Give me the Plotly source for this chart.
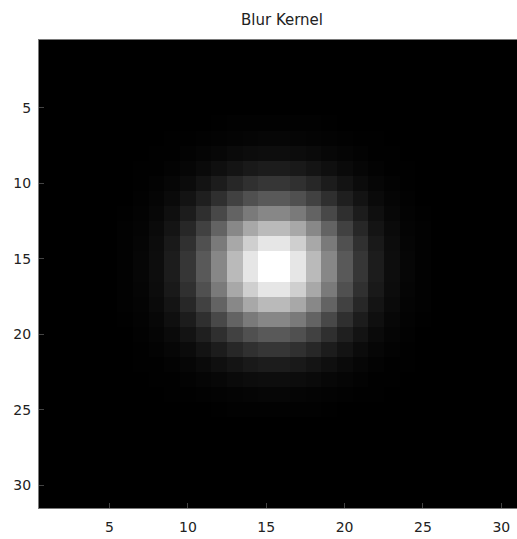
import plotly.graph_objects as go

title_text = "Blur Kernel"
col_index = list(range(1, 32))
row_index = list(range(1, 32))
tick_values = [5, 10, 15, 20, 25, 30]
tick_labels = ["5", "10", "15", "20", "25", "30"]

# grey level (0-255) of each kernel cell
kernel = [
    [0,0,0,0,0, 0,0,0,0,0,0,0,0,0,0,0,0,0,0,0,0,0,0,0,0, 0,0,0,0,0,0],
    [0,0,0,0,0, 0,0,0,0,0,0,0,0,0,0,0,0,0,0,0,0,0,0,0,0, 0,0,0,0,0,0],
    [0,0,0,0,0, 0,0,0,0,0,0,0,0,0,0,0,0,0,0,0,0,0,0,0,0, 0,0,0,0,0,0],
    [0,0,0,0,0, 0,0,0,0,0,0,0,0,0,0,0,0,0,0,0,0,0,0,0,0, 0,0,0,0,0,0],
    [0,0,0,0,0, 0,0,0,0,0,0,0,0,0,0,0,0,0,0,0,0,0,0,0,0, 0,0,0,0,0,0],
    [0,0,0,0,0, 0,0,0,0,0,0,1,2,2,2,2,2,2,1,0,0,0,0,0,0, 0,0,0,0,0,0],
    [0,0,0,0,0, 0,0,0,1,1,2,3,4,5,6,6,5,4,3,2,1,1,0,0,0, 0,0,0,0,0,0],
    [0,0,0,0,0, 0,0,1,1,3,5,7,10,12,13,13,12,10,7,5,3,1,1,0,0, 0,0,0,0,0,0],
    [0,0,0,0,0, 0,1,1,3,6,10,15,20,25,28,28,25,20,15,10,6,3,1,1,0, 0,0,0,0,0,0],
    [0,0,0,0,0, 0,1,3,6,11,19,28,39,48,54,54,48,39,28,19,11,6,3,1,0, 0,0,0,0,0,0],
    [0,0,0,0,0, 0,2,5,10,19,31,47,65,80,89,89,80,65,47,31,19,10,5,2,0, 0,0,0,0,0,0],
    [0,0,0,0,0, 1,3,7,15,28,47,72,99,122,135,135,122,99,72,47,28,15,7,3,1, 0,0,0,0,0,0],
    [0,0,0,0,0, 2,4,10,20,39,65,99,136,168,186,186,168,136,99,65,39,20,10,4,2, 0,0,0,0,0,0],
    [0,0,0,0,0, 2,5,12,25,48,80,122,168,207,230,230,207,168,122,80,48,25,12,5,2, 0,0,0,0,0,0],
    [0,0,0,0,0, 2,6,13,28,54,89,135,186,230,255,255,230,186,135,89,54,28,13,6,2, 0,0,0,0,0,0],
    [0,0,0,0,0, 2,6,13,28,54,89,135,186,230,255,255,230,186,135,89,54,28,13,6,2, 0,0,0,0,0,0],
    [0,0,0,0,0, 2,5,12,25,48,80,122,168,207,230,230,207,168,122,80,48,25,12,5,2, 0,0,0,0,0,0],
    [0,0,0,0,0, 2,4,10,20,39,65,99,136,168,186,186,168,136,99,65,39,20,10,4,2, 0,0,0,0,0,0],
    [0,0,0,0,0, 1,3,7,15,28,47,72,99,122,135,135,122,99,72,47,28,15,7,3,1, 0,0,0,0,0,0],
    [0,0,0,0,0, 0,2,5,10,19,31,47,65,80,89,89,80,65,47,31,19,10,5,2,0, 0,0,0,0,0,0],
    [0,0,0,0,0, 0,1,3,6,11,19,28,39,48,54,54,48,39,28,19,11,6,3,1,0, 0,0,0,0,0,0],
    [0,0,0,0,0, 0,1,1,3,6,10,15,20,25,28,28,25,20,15,10,6,3,1,1,0, 0,0,0,0,0,0],
    [0,0,0,0,0, 0,0,1,1,3,5,7,10,12,13,13,12,10,7,5,3,1,1,0,0, 0,0,0,0,0,0],
    [0,0,0,0,0, 0,0,0,1,1,2,3,4,5,6,6,5,4,3,2,1,1,0,0,0, 0,0,0,0,0,0],
    [0,0,0,0,0, 0,0,0,0,0,0,1,2,2,2,2,2,2,1,0,0,0,0,0,0, 0,0,0,0,0,0],
    [0,0,0,0,0, 0,0,0,0,0,0,0,0,0,0,0,0,0,0,0,0,0,0,0,0, 0,0,0,0,0,0],
    [0,0,0,0,0, 0,0,0,0,0,0,0,0,0,0,0,0,0,0,0,0,0,0,0,0, 0,0,0,0,0,0],
    [0,0,0,0,0, 0,0,0,0,0,0,0,0,0,0,0,0,0,0,0,0,0,0,0,0, 0,0,0,0,0,0],
    [0,0,0,0,0, 0,0,0,0,0,0,0,0,0,0,0,0,0,0,0,0,0,0,0,0, 0,0,0,0,0,0],
    [0,0,0,0,0, 0,0,0,0,0,0,0,0,0,0,0,0,0,0,0,0,0,0,0,0, 0,0,0,0,0,0],
    [0,0,0,0,0, 0,0,0,0,0,0,0,0,0,0,0,0,0,0,0,0,0,0,0,0, 0,0,0,0,0,0],
]

fig = go.Figure(
    go.Heatmap(
        z=kernel,
        x=col_index,
        y=row_index,
        zmin=0,
        zmax=255,
        colorscale=[[0, "#000000"], [1, "#ffffff"]],
        showscale=False,
        hoverinfo="skip",
    )
)

font_family = "DejaVu Sans"
axis_common = dict(
    tickmode="array",
    tickvals=tick_values,
    ticktext=tick_labels,
    ticks="inside",
    ticklen=5,
    tickcolor="#444444",
    showline=True,
    linecolor="#7a7a7a",
    linewidth=1,
    mirror=True,
    showgrid=False,
    zeroline=False,
    automargin=False,
    tickfont=dict(family=font_family, size=14, color="#222222"),
)

fig.update_xaxes(range=[0.5, 31.0], ticklabelstandoff=6, **axis_common)
fig.update_yaxes(range=[31.5, 0.5], ticklabelstandoff=4, **axis_common)

fig.update_layout(
    width=517,
    height=539,
    margin=dict(l=39, r=0, t=40, b=31, autoexpand=False),
    paper_bgcolor="#ffffff",
    plot_bgcolor="#000000",
    title=dict(
        text=title_text,
        x=282 / 517,
        xref="container",
        xanchor="center",
        y=1 - 19.5 / 539,
        yanchor="middle",
        font=dict(family=font_family, size=15, color="#222222"),
    ),
)

fig.write_html(
    "out.html",
    config={"displayModeBar": False, "staticPlot": True},
    post_script="document.body.style.margin='0';document.body.style.overflow='hidden';",
)
